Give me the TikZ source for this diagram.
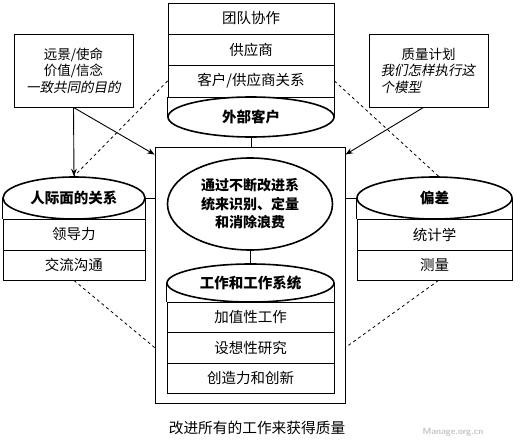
\documentclass[tikz,border=0pt]{standalone}
\usepackage{fontspec}
\setmainfont[AutoFakeSlant=0.2]{Noto Sans CJK SC}
\usepackage{tikz}
\usetikzlibrary{calc,arrows.meta,shapes.geometric}
\definecolor{markgray}{HTML}{C4C4C4}
\tikzset{
  ar/.style={-{Stealth[length=2.6mm,width=2mm]},line width=0.9pt},
  dl/.style={dashed,line width=0.8pt},
  box/.style={draw,line width=0.9pt,inner sep=2pt,font=\fontsize{13.5}{16.5}\selectfont},
  cell/.style={draw,line width=0.9pt,minimum height=31pt,inner sep=0pt,font=\fontsize{14.5}{16}\selectfont},
  lid/.style={draw,ellipse,line width=1.6pt,fill=white,inner sep=1pt,align=center,font=\fontsize{14.5}{18.5}\selectfont\bfseries}
}
\begin{document}
\begin{tikzpicture}[x=1pt,y=-1pt]
\useasboundingbox (0,0) rectangle (520,441);
\node[box,minimum width=190pt,minimum height=256pt] (core) at (250,275) {};
\node[cell,minimum width=166pt] (team) at (251,18.5) {团队协作};
\node[cell,minimum width=166pt] (supp) at (251,49.5) {供应商};
\node[cell,minimum width=166pt,minimum height=32pt] (rel) at (251,81) {客户/供应商关系};
\draw[line width=0.9pt] (rel.south west) -- ++(0,20) (rel.south east) -- ++(0,20);
\node[lid,minimum width=166pt,minimum height=40pt] (ext) at (251,117) {外部客户};
\node[box,minimum width=119pt,minimum height=73pt,align=center] (vision) at (73.5,70.5) {远景/使命\\价值/信念\\\itshape 一致共同的目的};
\node[box,minimum width=119pt,minimum height=73pt,text width=96pt] (plan) at (428.5,70.5) {\centering 质量计划\par\raggedright\itshape 我们怎样执行这\\个模型};
\node[cell,minimum width=142pt] (lead) at (74,234.5) {领导力};
\node[cell,minimum width=142pt,minimum height=30pt] (comm) at (74,265) {交流沟通};
\draw[line width=1.5pt] (lead.south west) -- (lead.south east);
\draw[line width=0.9pt] (lead.north west) -- ++(0,-21) (lead.north east) -- ++(0,-21);
\node[lid,minimum width=142pt,minimum height=42pt] (ppl) at (74,198) {人际面的关系};
\node[cell,minimum width=155pt] (stat) at (434.5,234.5) {统计学};
\node[cell,minimum width=155pt,minimum height=30pt] (meas) at (434.5,265) {测量};
\draw[line width=1.5pt] (stat.south west) -- (stat.south east);
\draw[line width=0.9pt] (stat.north west) -- ++(0,-21) (stat.north east) -- ++(0,-21);
\node[lid,minimum width=155pt,minimum height=42pt] (dev) at (434.5,198) {偏差};
\node[lid,minimum width=165pt,minimum height=92pt,font=\fontsize{14}{18.5}\selectfont\bfseries] (aim) at (250,204) {通过不断改进系\\统来识别、定量\\和消除浪费};
\node[cell,minimum width=167pt,minimum height=30pt] (add) at (250.5,317) {加值性工作};
\node[cell,minimum width=167pt] (idea) at (250.5,347.5) {设想性研究};
\node[cell,minimum width=167pt,minimum height=30pt] (create) at (250.5,378) {创造力和创新};
\draw[line width=1.5pt] (create.south west) -- (create.south east);
\draw[line width=0.9pt] (add.north west) -- ++(0,-19) (add.north east) -- ++(0,-19);
\node[lid,minimum width=167pt,minimum height=38pt] (work) at (250.5,283) {工作和工作系统};
\draw[line width=0.9pt] (ext.south) -- (ext.south |- core.north);
\draw[line width=0.9pt] (aim.south) -- (aim.south |- work.north);
\draw[line width=0.9pt] (ppl.east) -- (ppl.east -| core.west);
\draw[line width=0.9pt] (dev.west) -- (dev.west -| core.east);
\draw[ar] (vision.south) -- (ppl.north);
\draw[ar] (vision.south) -- ($(core.north west)+(0,8)$);
\draw[ar] ($(plan.south)+(-5,0)$) -- ($(core.north east)+(0,8)$);
\draw[dl] (rel.west) -- (ppl.north);
\draw[dl] (rel.east) -- ($(dev.north)+(4,0)$);
\draw[dl] (comm.south) -- (core.west |- idea);
\draw[dl] ($(meas.south)+(4,0)$) -- (core.east |- idea);
\node[font=\fontsize{14.7}{16}\selectfont] (title) at (257,428) {改进所有的工作来获得质量};
\node[font=\sffamily\bfseries\fontsize{9}{10}\selectfont,text=markgray] (mark) at (453,432) {Manage.org.cn};
\end{tikzpicture}
\end{document}
